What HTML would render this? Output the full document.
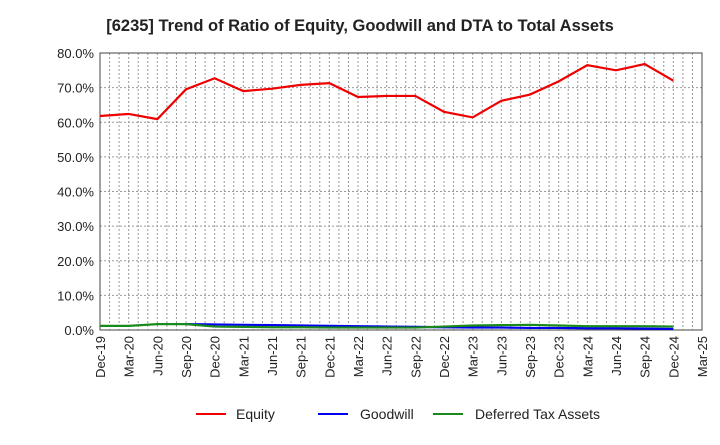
<!DOCTYPE html>
<html><head><meta charset="utf-8"><style>
body{margin:0;background:#fff;font-family:"Liberation Sans",sans-serif;}
</style></head><body>
<svg id="c" width="720" height="440" xmlns="http://www.w3.org/2000/svg">
<text x="360" y="31" text-anchor="middle" font-size="16.5" font-weight="bold" fill="#222">[6235]  Trend of Ratio of Equity, Goodwill and DTA to Total Assets</text>
<g id="grid"></g><g id="axes"></g><g id="series"></g>
<g>
<line x1="196" y1="414" x2="226" y2="414" stroke="#e00" stroke-width="2"/><text x="236" y="419" font-size="14" fill="#222">Equity</text>
<line x1="318" y1="414" x2="348" y2="414" stroke="#00e" stroke-width="2"/><text x="360" y="419" font-size="14" fill="#222">Goodwill</text>
<line x1="433" y1="414" x2="463" y2="414" stroke="#1a8a1a" stroke-width="2"/><text x="475" y="419" font-size="14" fill="#222">Deferred Tax Assets</text>
</g>
</svg>
<script>
const categories=["Dec-19","Mar-20","Jun-20","Sep-20","Dec-20","Mar-21","Jun-21","Sep-21","Dec-21","Mar-22","Jun-22","Sep-22","Dec-22","Mar-23","Jun-23","Sep-23","Dec-23","Mar-24","Jun-24","Sep-24","Dec-24","Mar-25"];
const equity=[61.8,62.4,60.9,69.5,72.7,69.0,69.7,70.8,71.3,67.3,67.6,67.6,63.0,61.4,66.2,68.0,71.8,76.5,75.0,76.8,72.0];
const goodwill=[null,null,null,1.7,1.6,1.5,1.4,1.3,1.2,1.1,1.0,0.9,0.8,0.7,0.7,0.6,0.6,0.5,0.5,0.4,0.3];
const dta=[1.2,1.2,1.7,1.7,1.0,0.9,0.8,0.8,0.7,0.7,0.7,0.7,1.0,1.3,1.4,1.5,1.3,1.1,1.1,1.1,1.0];
const yTicks=[0,10,20,30,40,50,60,70,80];
const L=100,R=702,T=53,B=330,NS="http://www.w3.org/2000/svg";
const x=i=>L+(R-L)*i/(categories.length-1);
const y=v=>B-(B-T)*v/80;
function mk(p,tag,a){const e=document.createElementNS(NS,tag);for(const k in a)e.setAttribute(k,a[k]);p.appendChild(e);return e;}
const g=document.getElementById('grid'),ax=document.getElementById('axes'),s=document.getElementById('series');
for(let m=1;m<(categories.length-1)*3;m++){const xx=L+(R-L)*m/((categories.length-1)*3);
const l=mk(g,'line',{x1:xx,x2:xx,y1:T,y2:B,stroke:'#999','stroke-dasharray':'2,2'});

}
yTicks.forEach(v=>{const l=mk(g,'line',{x1:L,x2:R,y1:y(v),y2:y(v),stroke:'#999','stroke-dasharray':'2,2'});


const t=mk(ax,'text',{x:L-6,y:y(v)+5,'text-anchor':'end','font-size':'13',fill:'#222'});t.textContent=v.toFixed(1)+'%';

});
const fr=mk(ax,'rect',{x:L,y:T,width:R-L,height:B-T,fill:'none',stroke:'#444'});


categories.forEach((c,i)=>{const t=mk(ax,'text',{transform:`translate(${x(i)+5},${B+6}) rotate(-90)`,'text-anchor':'end','font-size':'13',fill:'#222'});t.textContent=c;

});
function line(d,col,name){const pts=[];d.forEach((v,i)=>{if(v!=null)pts.push(x(i)+','+y(v));});
const p=mk(s,'polyline',{points:pts.join(' '),fill:'none',stroke:col,'stroke-width':2.2});

}
line(goodwill,'#00e','goodwill-line');
line(dta,'#1a8a1a','dta-line');
line(equity,'#e00','equity-line');
</script>
</body></html>
